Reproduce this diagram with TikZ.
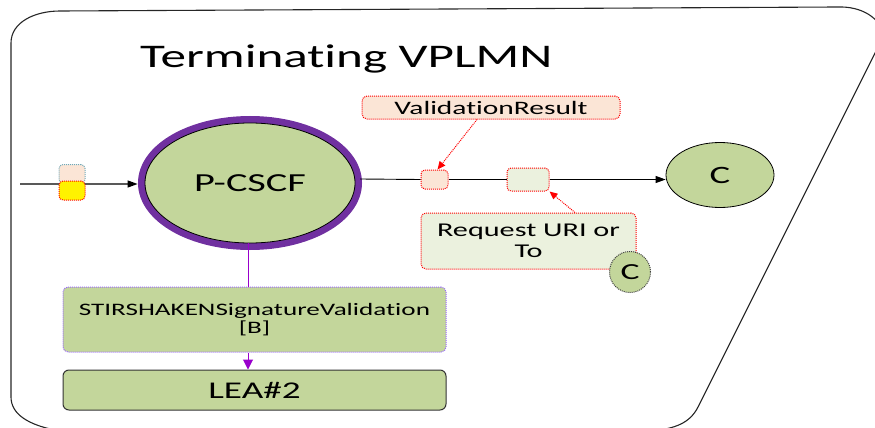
\documentclass[tikz,border=0pt]{standalone}
\usepackage{fontspec}
\setmainfont[FakeStretch=1.55, Ligatures={NoCommon}]{Carlito}
\usetikzlibrary{arrows.meta,shapes.geometric}
\definecolor{lgreen}{HTML}{C3D69B}
\definecolor{pale}{HTML}{EBF1DE}
\definecolor{peach}{HTML}{FBE5D6}
\definecolor{ring}{HTML}{7030A0}
\definecolor{vio}{HTML}{9900CC}
\definecolor{lav}{HTML}{9966FF}
\definecolor{frame}{HTML}{262626}
\definecolor{teal}{HTML}{6FA8B8}
\tikzset{
  fs/.style={font=\fontsize{#1}{\dimexpr#1pt*11/10\relax}\selectfont},
  dots/.style={dash pattern=on 1pt off 1pt, line width=1pt},
  tok/.style={draw=red, dots, rounded corners=4pt, inner sep=0pt},
  lbl/.style={draw=red, dots, rounded corners=5pt, inner sep=0pt, align=center},
  redarr/.style={red, dots, -{Triangle[length=8pt,width=7pt,sep=0pt]}},
  blk/.style={-{Triangle[length=10pt,width=7pt,color=black,fill=black]}},
}
\begin{document}
\begin{tikzpicture}[x=1pt,y=-1pt]
\useasboundingbox (0,0) rectangle (875,428);
% frame
\draw[frame, line width=1.1pt] (55,430) .. controls (30,425) and (11,415) .. (11,397) -- (11,43)
  .. controls (11,22) and (35,11) .. (60,11) -- (837,7)
  .. controls (862,6) and (880,18) .. (884,35) -- (698,407)
  .. controls (690,423) and (675,429) .. (650,431);
% title
\node[anchor=base west, inner sep=0pt, fs=33] (title) at (140,67) {Terminating VPLMN};
% P-CSCF
\node[ellipse, fill=lgreen, draw=black, line width=0.8pt, minimum width=210pt, minimum height=120pt, inner sep=0pt,
      preaction={draw=ring, line width=14pt}, fs=26] (p) at (250,183) {P-CSCF};
% C ellipse
\node[ellipse, fill=lgreen, draw=black, line width=0.8pt, minimum width=108pt, minimum height=65pt, inner sep=0pt, fs=25] (c) at (720,175) {C};
% left tokens
\coordinate (in) at (20,184);
\draw[gray!70!black, line width=1.2pt, blk] (in) -- ([shift={(-7,1)}]p.west);
\node[draw=teal, dots, rounded corners=4pt, fill=peach, minimum width=26pt, minimum height=19pt, inner sep=0pt] (tk0) at (72,174) {};
\node[tok, fill=yellow, minimum width=26pt, minimum height=19pt] (tk1) at (72,190.5) {};
% tokens on outgoing line
\node[tok, fill=peach, minimum width=27pt, minimum height=19pt] (t1) at (434.5,179.5) {};
\node[tok, fill=pale, minimum width=42pt, minimum height=23pt] (t2) at (528,179.5) {};
\coordinate (pout) at (360,179);
\draw[black, line width=0.9pt] (pout) -- (t1.west);
\draw[black, line width=0.9pt] (t1.east) -- (t2.west);
\draw[black, line width=0.9pt, blk] (t2.east) -- (t2.east -| c.west);
% ValidationResult label
\node[lbl, fill=peach, minimum width=258pt, minimum height=23pt, fs=19] (vr) at (491,107.5) {ValidationResult};
\draw[redarr] ([xshift=-14pt]vr.south) -- ([xshift=3pt]t1.north);
% Request URI label
\node[lbl, fill=pale, minimum width=215pt, minimum height=56pt, fs=19.5] (rq) at (528.5,241) {Request URI or\\To};
\draw[redarr] ([xshift=46.5pt]rq.north) -- (t2.south east);
\node[circle, draw=black!75, dots, fill=lgreen, minimum size=41pt, inner sep=0pt, fs=23] (sc) at (630,272) {C};
% STIRSHAKEN box
\node[draw=lav, dots, fill=lgreen, rounded corners=5pt, minimum width=383pt, minimum height=65pt,
      inner sep=0pt, align=center, fs=17.5] (ss) at (254.5,319.5) {STIRSHAKENSignatureValidation\\[-1pt]{[B]}};
\node[draw=black!80, line width=1pt, fill=lgreen, rounded corners=6pt, minimum width=383pt, minimum height=40pt,
      inner sep=0pt, fs=24] (lea) at (254.5,390) {LEA\#2};
\draw[vio, line width=1pt] ([xshift=-2pt]p.south) -- ([xshift=-2pt]p.south |- ss.north);
\draw[vio, line width=1pt, -{Triangle[length=10pt,width=10pt]}] ([xshift=-2pt]p.south |- ss.south) -- ([xshift=-2pt]p.south |- lea.north);
\end{tikzpicture}
\end{document}
